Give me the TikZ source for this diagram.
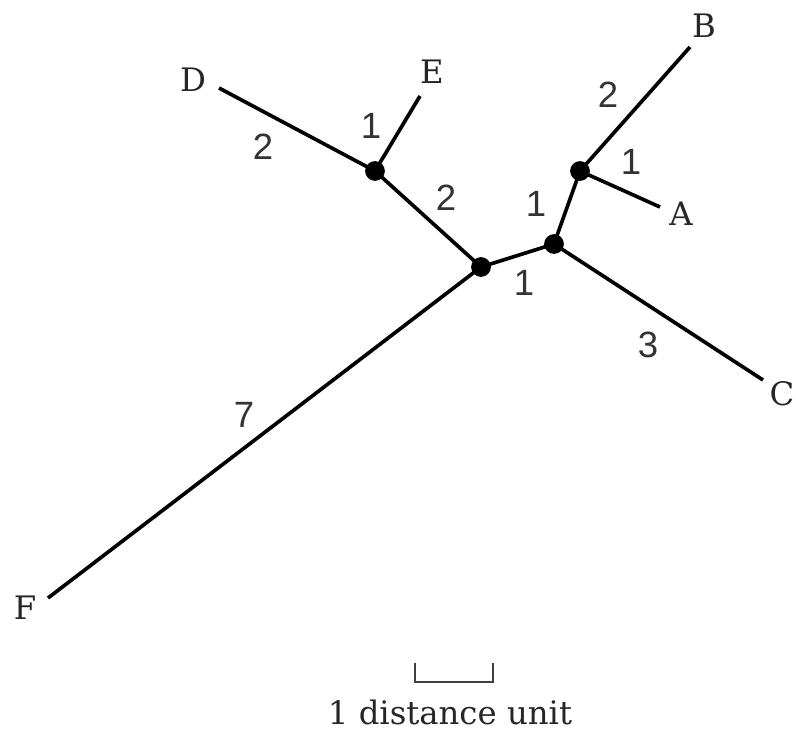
\documentclass[tikz,border=0pt]{standalone}
\usepackage{fontspec}
\newfontfamily\numfont{Liberation Sans}
\newfontfamily\taxfont{DejaVu Serif}
\usepackage{tikz}
\usetikzlibrary{positioning}
\tikzset{
  branch/.style={line width=2.6pt, black},
  innernode/.style={circle, fill=black, inner sep=0pt, minimum size=14bp},
  taxon/.style={font=\taxfont\fontsize{23}{28}\selectfont, text=black!85, inner sep=0pt},
  weight/.style={font=\numfont\fontsize{26}{30}\selectfont, text=black!80, inner sep=0pt},
  scalebar/.style={line width=1.4pt, black!75},
  caption/.style={font=\taxfont\fontsize{23}{28}\selectfont, text=black!85, inner sep=0pt}
}

\begin{document}
\begin{tikzpicture}[x=0.025cm, y=-0.025cm]
  \useasboundingbox (0,0) rectangle (796,733);
  % inner nodes
  \node[innernode] (de) at (375,171) {};
  \node[innernode] (mid) at (481,267) {};
  \node[innernode] (rt) at (554,244) {};
  \node[innernode] (ab) at (580,171) {};
  % leaf ends
  \coordinate (d) at (219,88);
  \coordinate (e) at (420,96);
  \coordinate (b) at (690,47);
  \coordinate (a) at (660,207);
  \coordinate (c) at (763,380);
  \coordinate (f) at (48,598);
  \node[taxon] (labd) at (193,80) {D};
  \node[taxon] (labe) at (432,72) {E};
  \node[taxon] (labb) at (704,26) {B};
  \node[taxon] (laba) at (681,214) {A};
  \node[taxon] (labc) at (782,394) {C};
  \node[taxon] (labf) at (25,608) {F};
  % branches
  \draw[branch] (d) -- (de.center);
  \draw[branch] (e) -- (de.center);
  \draw[branch] (de.center) -- (mid.center);
  \draw[branch] (mid.center) -- (rt.center);
  \draw[branch] (rt.center) -- (ab.center);
  \draw[branch] (ab.center) -- (b);
  \draw[branch] (ab.center) -- (a);
  \draw[branch] (rt.center) -- (c);
  \draw[branch] (mid.center) -- (f);
  % branch lengths
  \node[weight] (wd) at (263,147) {2};
  \node[weight] (we) at (371,126) {1};
  \node[weight] (wde) at (446,198) {2};
  \node[weight] (wmid) at (524,283) {1};
  \node[weight] (wrt) at (536,204) {1};
  \node[weight] (wb) at (608,95) {2};
  \node[weight] (wa) at (631,162) {1};
  \node[weight] (wc) at (648,345) {3};
  \node[weight] (wf) at (244,415) {7};
  % scale
  \coordinate (s1) at (415,663);
  \coordinate (s2) at (493,663);
  \draw[scalebar] (s1) -- ++(0,19) -| (s2);
  \node[caption] (unit) at (450,712) {1 distance unit};
\end{tikzpicture}
\end{document}
